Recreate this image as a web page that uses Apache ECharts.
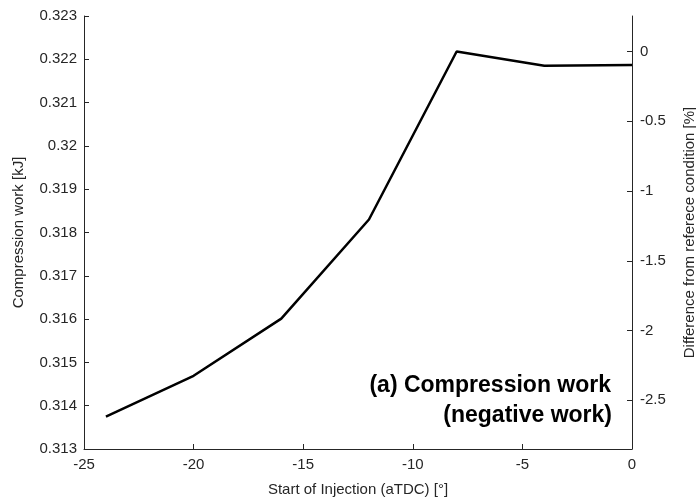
<!DOCTYPE html>
<html>
<head>
<meta charset="utf-8">
<script src="https://cdn.jsdelivr.net/npm/echarts@6/dist/echarts.min.js"></script>
<style>
html,body{margin:0;padding:0;background:#fff;}
#c{width:696px;height:504px;}
</style>
</head>
<body>
<div id="c"></div>
<script>
var soi = [-24, -20, -16, -12, -8, -4, 0];
var compWork = [0.31375, 0.31469, 0.31601, 0.31830, 0.32218, 0.32185, 0.32187];
var refValue = 0.32218;
var leftMin = 0.313, leftMax = 0.323;
var xTitle = 'Start of Injection (aTDC) [°]';
var leftTitle = 'Compression work [kJ]';
var rightTitle = 'Difference from referece condition [%]';
var note1 = '(a) Compression work';
var note2 = '(negative work)';

var rMin = (leftMin / refValue - 1) * 100;
var rMax = (leftMax / refValue - 1) * 100;

var font = 'Liberation Sans, Arial, Helvetica, sans-serif';
var axisCol = '#262626';

var chart = echarts.init(document.getElementById('c'), null, {renderer: 'canvas'});
chart.setOption({
  animation: false,
  backgroundColor: '#fff',
  grid: {left: 84, right: 64, top: 16, bottom: 55, containLabel: false, outerBoundsMode: 'none'},
  xAxis: {
    type: 'value', min: -25, max: 0, interval: 5,
    name: xTitle, nameLocation: 'middle', nameGap: 33,
    nameTextStyle: {fontFamily: font, fontSize: 15, color: axisCol},
    axisLine: {show: true, onZero: false, lineStyle: {color: axisCol, width: 1}},
    axisTick: {show: true, inside: true, length: 5, lineStyle: {color: axisCol}},
    axisLabel: {fontFamily: font, fontSize: 15, color: axisCol, margin: 8},
    splitLine: {show: false}
  },
  yAxis: [{
    type: 'value', min: leftMin, max: leftMax, interval: 0.001, position: 'left',
    name: leftTitle, nameLocation: 'middle', nameGap: 58, nameRotate: 90,
    nameTextStyle: {fontFamily: font, fontSize: 15, color: axisCol},
    axisLine: {show: true, onZero: false, lineStyle: {color: axisCol, width: 1}},
    axisTick: {show: true, inside: true, length: 5, lineStyle: {color: axisCol}},
    axisLabel: {fontFamily: font, fontSize: 15, color: axisCol, margin: 7,
      formatter: function (v) { return String(parseFloat(v.toFixed(4))); }},
    splitLine: {show: false}
  }, {
    type: 'value', min: rMin, max: rMax, splitNumber: 6, position: 'right',
    alignTicks: false,
    name: rightTitle, nameLocation: 'middle', nameGap: 50, nameRotate: 90,
    nameTextStyle: {fontFamily: font, fontSize: 15, color: axisCol},
    axisLine: {show: true, onZero: false, lineStyle: {color: axisCol, width: 1}},
    axisTick: {show: true, inside: true, length: 5, lineStyle: {color: axisCol}},
    axisLabel: {fontFamily: font, fontSize: 15, color: axisCol, margin: 8,
      showMinLabel: false, showMaxLabel: false,
      formatter: function (v) { return String(parseFloat(v.toFixed(2))); }},
    splitLine: {show: false}
  }],
  graphic: [{
    type: 'text', x: 611, y: 386,
    style: {text: note1, font: 'bold 23px ' + font, fill: '#000', align: 'right', verticalAlign: 'middle'}
  }, {
    type: 'text', x: 612, y: 416,
    style: {text: note2, font: 'bold 23px ' + font, fill: '#000', align: 'right', verticalAlign: 'middle'}
  }],
  series: [{
    type: 'line', yAxisIndex: 0,
    data: soi.map(function (x, i) { return [x, compWork[i]]; }),
    showSymbol: false, symbol: 'none',
    lineStyle: {color: '#000', width: 2.5},
    itemStyle: {color: '#000'}
  }]
});
</script>
</body>
</html>
